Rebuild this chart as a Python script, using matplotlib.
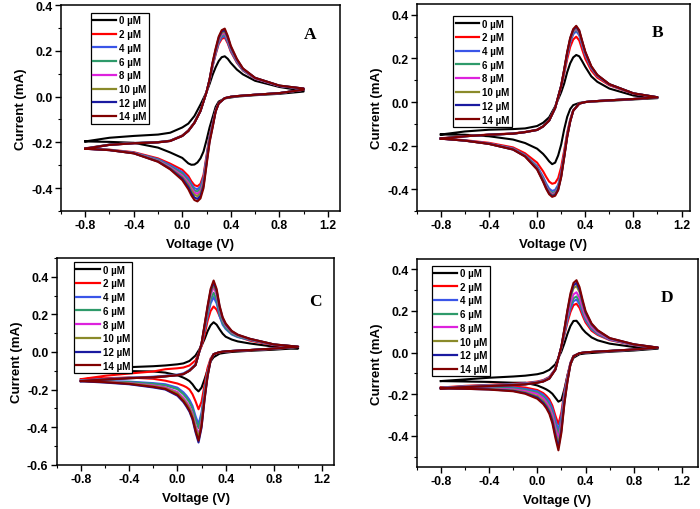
import matplotlib
matplotlib.use("Agg")
import matplotlib.pyplot as plt
from matplotlib.ticker import MultipleLocator, FormatStrFormatter

plt.rcParams['font.family'] = ['Liberation Sans', 'DejaVu Sans']
plt.rcParams['font.weight'] = 'bold'
plt.rcParams['axes.unicode_minus'] = False

# ---------------- data ----------------
CONC = [0, 2, 4, 6, 8, 10, 12, 14]
LABELS = [f"{c} µM" for c in CONC]
COLORS = ['#000000', '#ff0000', '#3a55e8', '#2e9a6a', '#dd22dd', '#8a8a2a', '#1a1aa0', '#800000']

# voltage grids: anodic (forward) sweep and cathodic (reverse) sweep
V_FWD = [-0.8, -0.6, -0.4, -0.2, -0.1, 0.0, 0.05, 0.1, 0.15, 0.2, 0.225, 0.25, 0.275,
         0.3, 0.325, 0.35, 0.375, 0.4, 0.45, 0.5, 0.6, 0.8, 1.0]
V_REV = [1.0, 0.8, 0.6, 0.45, 0.4, 0.35, 0.3, 0.275, 0.25, 0.225, 0.2, 0.175, 0.15,
         0.125, 0.1, 0.075, 0.05, 0.0, -0.1, -0.2, -0.4, -0.6, -0.8]

A_FWD = [
    [-0.196, -0.180, -0.172, -0.166, -0.158, -0.135, -0.118, -0.085, -0.035, 0.020, 0.055, 0.095, 0.128, 0.155, 0.172, 0.176, 0.165, 0.147, 0.118, 0.097, 0.069, 0.042, 0.025],
    [-0.226, -0.210, -0.203, -0.199, -0.193, -0.170, -0.148, -0.113, -0.062, 0.020, 0.070, 0.132, 0.184, 0.229, 0.252, 0.258, 0.232, 0.196, 0.148, 0.114, 0.078, 0.046, 0.034],
    [-0.227, -0.210, -0.203, -0.199, -0.193, -0.171, -0.149, -0.114, -0.062, 0.020, 0.071, 0.135, 0.188, 0.235, 0.259, 0.265, 0.237, 0.200, 0.151, 0.115, 0.079, 0.046, 0.034],
    [-0.227, -0.210, -0.203, -0.199, -0.193, -0.171, -0.149, -0.114, -0.062, 0.020, 0.072, 0.138, 0.193, 0.241, 0.266, 0.272, 0.243, 0.205, 0.154, 0.117, 0.080, 0.047, 0.034],
    [-0.228, -0.211, -0.204, -0.200, -0.194, -0.172, -0.150, -0.115, -0.063, 0.020, 0.073, 0.141, 0.197, 0.246, 0.272, 0.278, 0.248, 0.209, 0.157, 0.119, 0.080, 0.047, 0.035],
    [-0.228, -0.211, -0.204, -0.200, -0.194, -0.172, -0.150, -0.115, -0.063, 0.020, 0.074, 0.144, 0.201, 0.251, 0.278, 0.284, 0.254, 0.213, 0.160, 0.121, 0.081, 0.048, 0.035],
    [-0.228, -0.211, -0.204, -0.200, -0.194, -0.172, -0.150, -0.115, -0.063, 0.020, 0.075, 0.147, 0.205, 0.256, 0.284, 0.290, 0.259, 0.217, 0.162, 0.122, 0.082, 0.048, 0.035],
    [-0.228, -0.211, -0.204, -0.200, -0.194, -0.172, -0.150, -0.115, -0.063, 0.020, 0.075, 0.150, 0.210, 0.262, 0.290, 0.297, 0.265, 0.222, 0.165, 0.123, 0.082, 0.048, 0.035],
]
A_REV = [
    [0.022, 0.012, 0.006, 0.000, -0.004, -0.008, -0.022, -0.045, -0.090, -0.135, -0.190, -0.240, -0.270, -0.288, -0.297, -0.298, -0.292, -0.268, -0.244, -0.223, -0.202, -0.198, -0.196],
    [0.030, 0.015, 0.008, 0.002, -0.001, -0.007, -0.028, -0.060, -0.116, -0.171, -0.257, -0.342, -0.381, -0.392, -0.387, -0.370, -0.347, -0.320, -0.293, -0.270, -0.243, -0.232, -0.226],
    [0.030, 0.015, 0.008, 0.002, -0.001, -0.007, -0.029, -0.061, -0.119, -0.177, -0.265, -0.354, -0.393, -0.405, -0.400, -0.382, -0.358, -0.330, -0.300, -0.274, -0.245, -0.233, -0.227],
    [0.030, 0.015, 0.008, 0.002, -0.001, -0.007, -0.029, -0.062, -0.122, -0.181, -0.272, -0.362, -0.403, -0.415, -0.410, -0.391, -0.367, -0.337, -0.305, -0.277, -0.246, -0.233, -0.227],
    [0.030, 0.015, 0.008, 0.002, -0.001, -0.007, -0.030, -0.063, -0.125, -0.186, -0.278, -0.371, -0.413, -0.425, -0.419, -0.401, -0.376, -0.345, -0.309, -0.280, -0.247, -0.234, -0.228],
    [0.030, 0.015, 0.008, 0.002, -0.001, -0.007, -0.030, -0.064, -0.128, -0.190, -0.285, -0.380, -0.423, -0.435, -0.429, -0.410, -0.385, -0.352, -0.313, -0.282, -0.248, -0.234, -0.228],
    [0.030, 0.015, 0.008, 0.002, -0.001, -0.007, -0.030, -0.065, -0.132, -0.195, -0.293, -0.390, -0.434, -0.447, -0.441, -0.422, -0.395, -0.358, -0.316, -0.284, -0.248, -0.234, -0.228],
    [0.030, 0.015, 0.008, 0.002, -0.001, -0.007, -0.030, -0.065, -0.135, -0.200, -0.300, -0.400, -0.445, -0.458, -0.452, -0.432, -0.405, -0.365, -0.318, -0.285, -0.248, -0.234, -0.228],
]

B_FWD = [
    [-0.149, -0.135, -0.127, -0.124, -0.121, -0.110, -0.095, -0.070, -0.020, 0.045, 0.085, 0.137, 0.178, 0.205, 0.216, 0.210, 0.187, 0.162, 0.118, 0.093, 0.062, 0.030, 0.018],
    [-0.166, -0.156, -0.149, -0.144, -0.137, -0.127, -0.111, -0.084, -0.027, 0.070, 0.130, 0.197, 0.253, 0.287, 0.300, 0.283, 0.240, 0.199, 0.145, 0.112, 0.077, 0.038, 0.021],
    [-0.167, -0.157, -0.150, -0.145, -0.138, -0.128, -0.112, -0.085, -0.027, 0.073, 0.140, 0.214, 0.274, 0.311, 0.325, 0.307, 0.260, 0.216, 0.155, 0.119, 0.080, 0.039, 0.022],
    [-0.167, -0.157, -0.150, -0.145, -0.138, -0.128, -0.112, -0.085, -0.027, 0.074, 0.143, 0.219, 0.281, 0.319, 0.333, 0.314, 0.266, 0.221, 0.158, 0.121, 0.081, 0.040, 0.022],
    [-0.168, -0.157, -0.150, -0.145, -0.138, -0.128, -0.112, -0.085, -0.027, 0.074, 0.145, 0.222, 0.285, 0.324, 0.338, 0.319, 0.270, 0.224, 0.160, 0.122, 0.081, 0.040, 0.022],
    [-0.168, -0.157, -0.150, -0.145, -0.138, -0.128, -0.112, -0.085, -0.027, 0.075, 0.147, 0.225, 0.288, 0.327, 0.342, 0.322, 0.274, 0.227, 0.162, 0.123, 0.082, 0.040, 0.022],
    [-0.168, -0.157, -0.150, -0.145, -0.138, -0.128, -0.112, -0.085, -0.027, 0.075, 0.148, 0.227, 0.292, 0.331, 0.346, 0.326, 0.277, 0.229, 0.163, 0.124, 0.082, 0.040, 0.022],
    [-0.168, -0.157, -0.150, -0.145, -0.138, -0.128, -0.112, -0.085, -0.027, 0.075, 0.150, 0.230, 0.295, 0.335, 0.350, 0.330, 0.280, 0.232, 0.165, 0.125, 0.082, 0.040, 0.022],
]
B_REV = [
    [0.018, 0.012, 0.006, 0.002, 0.000, -0.004, -0.014, -0.032, -0.068, -0.125, -0.195, -0.245, -0.278, -0.285, -0.272, -0.254, -0.238, -0.214, -0.188, -0.172, -0.157, -0.150, -0.149],
    [0.021, 0.014, 0.008, 0.003, 0.000, -0.007, -0.037, -0.080, -0.140, -0.222, -0.298, -0.349, -0.371, -0.375, -0.365, -0.343, -0.318, -0.278, -0.235, -0.208, -0.187, -0.175, -0.166],
    [0.022, 0.014, 0.008, 0.003, 0.000, -0.007, -0.039, -0.084, -0.150, -0.239, -0.324, -0.380, -0.403, -0.408, -0.397, -0.373, -0.343, -0.294, -0.243, -0.213, -0.190, -0.176, -0.167],
    [0.022, 0.014, 0.008, 0.003, 0.000, -0.007, -0.039, -0.086, -0.153, -0.245, -0.331, -0.388, -0.412, -0.417, -0.406, -0.382, -0.351, -0.299, -0.245, -0.215, -0.191, -0.177, -0.167],
    [0.022, 0.014, 0.008, 0.003, 0.000, -0.007, -0.040, -0.087, -0.156, -0.248, -0.335, -0.394, -0.418, -0.423, -0.411, -0.387, -0.356, -0.303, -0.247, -0.216, -0.191, -0.177, -0.168],
    [0.022, 0.014, 0.008, 0.003, 0.000, -0.007, -0.040, -0.088, -0.157, -0.250, -0.339, -0.398, -0.422, -0.427, -0.415, -0.391, -0.359, -0.305, -0.248, -0.217, -0.192, -0.177, -0.168],
    [0.022, 0.014, 0.008, 0.003, 0.000, -0.007, -0.040, -0.089, -0.159, -0.253, -0.342, -0.401, -0.426, -0.431, -0.419, -0.394, -0.363, -0.307, -0.249, -0.218, -0.192, -0.177, -0.168],
    [0.022, 0.014, 0.008, 0.003, 0.000, -0.007, -0.040, -0.090, -0.160, -0.255, -0.345, -0.405, -0.430, -0.435, -0.423, -0.398, -0.366, -0.310, -0.250, -0.218, -0.192, -0.177, -0.168],
]

C_FWD = [
    [-0.111, -0.090, -0.081, -0.076, -0.072, -0.066, -0.061, -0.048, -0.019, 0.033, 0.068, 0.110, 0.142, 0.158, 0.145, 0.120, 0.097, 0.081, 0.066, 0.056, 0.045, 0.028, 0.018],
    [-0.145, -0.127, -0.115, -0.104, -0.092, -0.087, -0.083, -0.072, -0.045, 0.030, 0.090, 0.165, 0.218, 0.242, 0.225, 0.190, 0.155, 0.132, 0.100, 0.082, 0.060, 0.036, 0.026],
    [-0.152, -0.144, -0.137, -0.132, -0.127, -0.121, -0.114, -0.096, -0.066, 0.040, 0.115, 0.190, 0.258, 0.292, 0.258, 0.190, 0.145, 0.122, 0.093, 0.079, 0.064, 0.038, 0.027],
    [-0.153, -0.145, -0.138, -0.133, -0.128, -0.122, -0.116, -0.098, -0.068, 0.042, 0.123, 0.204, 0.278, 0.315, 0.278, 0.204, 0.155, 0.128, 0.097, 0.082, 0.066, 0.039, 0.027],
    [-0.154, -0.146, -0.139, -0.134, -0.129, -0.123, -0.117, -0.099, -0.069, 0.043, 0.133, 0.223, 0.304, 0.345, 0.304, 0.223, 0.170, 0.140, 0.104, 0.087, 0.068, 0.039, 0.028],
    [-0.155, -0.147, -0.140, -0.135, -0.130, -0.124, -0.118, -0.100, -0.070, 0.044, 0.137, 0.231, 0.316, 0.358, 0.316, 0.231, 0.175, 0.145, 0.107, 0.089, 0.069, 0.040, 0.028],
    [-0.156, -0.147, -0.140, -0.135, -0.130, -0.124, -0.118, -0.100, -0.070, 0.045, 0.141, 0.239, 0.326, 0.370, 0.326, 0.239, 0.180, 0.148, 0.110, 0.091, 0.070, 0.040, 0.028],
    [-0.155, -0.147, -0.140, -0.135, -0.130, -0.124, -0.118, -0.100, -0.070, 0.045, 0.145, 0.245, 0.335, 0.380, 0.335, 0.245, 0.185, 0.152, 0.112, 0.092, 0.070, 0.040, 0.028],
]
C_REV = [
    [0.020, 0.012, 0.006, 0.000, -0.004, -0.009, -0.028, -0.050, -0.095, -0.145, -0.190, -0.210, -0.195, -0.172, -0.155, -0.145, -0.137, -0.124, -0.110, -0.104, -0.102, -0.106, -0.111],
    [0.026, 0.016, 0.009, 0.004, 0.002, -0.002, -0.012, -0.035, -0.085, -0.175, -0.265, -0.305, -0.262, -0.225, -0.200, -0.188, -0.180, -0.168, -0.153, -0.143, -0.136, -0.140, -0.145],
    [0.027, 0.017, 0.010, 0.005, 0.003, -0.001, -0.012, -0.040, -0.108, -0.204, -0.322, -0.385, -0.341, -0.287, -0.255, -0.233, -0.215, -0.190, -0.172, -0.166, -0.158, -0.155, -0.152],
    [0.027, 0.017, 0.010, 0.005, 0.003, -0.001, -0.012, -0.041, -0.112, -0.215, -0.339, -0.405, -0.359, -0.302, -0.268, -0.245, -0.225, -0.198, -0.178, -0.170, -0.161, -0.157, -0.153],
    [0.028, 0.018, 0.010, 0.005, 0.003, -0.001, -0.012, -0.043, -0.121, -0.233, -0.368, -0.440, -0.390, -0.328, -0.291, -0.266, -0.244, -0.213, -0.188, -0.178, -0.166, -0.159, -0.154],
    [0.028, 0.018, 0.010, 0.005, 0.003, -0.001, -0.012, -0.044, -0.124, -0.241, -0.381, -0.455, -0.403, -0.339, -0.301, -0.275, -0.253, -0.220, -0.193, -0.182, -0.168, -0.160, -0.155],
    [0.028, 0.018, 0.010, 0.005, 0.003, -0.001, -0.012, -0.046, -0.131, -0.255, -0.403, -0.482, -0.427, -0.359, -0.318, -0.291, -0.267, -0.233, -0.200, -0.189, -0.172, -0.163, -0.156],
    [0.028, 0.018, 0.010, 0.005, 0.003, -0.001, -0.012, -0.045, -0.128, -0.250, -0.395, -0.472, -0.418, -0.352, -0.312, -0.285, -0.262, -0.228, -0.197, -0.186, -0.170, -0.161, -0.155],
]

D_FWD = [
    [-0.137, -0.129, -0.121, -0.115, -0.111, -0.104, -0.097, -0.083, -0.056, 0.005, 0.045, 0.090, 0.128, 0.152, 0.153, 0.135, 0.113, 0.097, 0.073, 0.059, 0.043, 0.027, 0.019],
    [-0.168, -0.160, -0.155, -0.150, -0.146, -0.139, -0.132, -0.117, -0.078, 0.025, 0.085, 0.145, 0.195, 0.228, 0.235, 0.215, 0.178, 0.145, 0.105, 0.085, 0.060, 0.036, 0.023],
    [-0.170, -0.162, -0.157, -0.152, -0.148, -0.141, -0.134, -0.119, -0.079, 0.026, 0.093, 0.158, 0.212, 0.247, 0.255, 0.233, 0.192, 0.155, 0.112, 0.089, 0.062, 0.037, 0.023],
    [-0.170, -0.163, -0.158, -0.153, -0.150, -0.142, -0.136, -0.121, -0.080, 0.027, 0.098, 0.167, 0.224, 0.261, 0.270, 0.246, 0.202, 0.163, 0.117, 0.092, 0.064, 0.038, 0.023],
    [-0.171, -0.164, -0.159, -0.154, -0.151, -0.143, -0.137, -0.122, -0.081, 0.028, 0.104, 0.179, 0.240, 0.280, 0.290, 0.264, 0.216, 0.173, 0.124, 0.097, 0.065, 0.038, 0.024],
    [-0.172, -0.165, -0.160, -0.155, -0.152, -0.144, -0.138, -0.124, -0.082, 0.029, 0.110, 0.195, 0.264, 0.310, 0.320, 0.291, 0.237, 0.188, 0.133, 0.103, 0.068, 0.039, 0.024],
    [-0.172, -0.166, -0.161, -0.156, -0.153, -0.145, -0.139, -0.125, -0.082, 0.030, 0.113, 0.200, 0.275, 0.323, 0.335, 0.303, 0.246, 0.194, 0.137, 0.106, 0.069, 0.040, 0.024],
    [-0.172, -0.166, -0.161, -0.156, -0.153, -0.145, -0.139, -0.125, -0.082, 0.030, 0.115, 0.205, 0.285, 0.335, 0.348, 0.315, 0.255, 0.200, 0.140, 0.108, 0.070, 0.040, 0.024],
]
D_REV = [
    [0.019, 0.010, 0.004, -0.002, -0.004, -0.008, -0.025, -0.056, -0.110, -0.175, -0.228, -0.236, -0.217, -0.198, -0.186, -0.177, -0.170, -0.158, -0.145, -0.145, -0.141, -0.139, -0.137],
    [0.023, 0.014, 0.007, 0.003, 0.001, -0.003, -0.016, -0.048, -0.110, -0.185, -0.285, -0.345, -0.303, -0.255, -0.225, -0.208, -0.195, -0.180, -0.168, -0.163, -0.165, -0.167, -0.168],
    [0.023, 0.014, 0.007, 0.003, 0.001, -0.003, -0.017, -0.050, -0.116, -0.196, -0.306, -0.372, -0.325, -0.270, -0.237, -0.218, -0.203, -0.186, -0.175, -0.168, -0.168, -0.169, -0.170],
    [0.023, 0.014, 0.008, 0.003, 0.001, -0.003, -0.017, -0.052, -0.122, -0.208, -0.325, -0.395, -0.345, -0.286, -0.250, -0.228, -0.212, -0.193, -0.180, -0.172, -0.171, -0.171, -0.170],
    [0.024, 0.015, 0.008, 0.003, 0.001, -0.003, -0.018, -0.053, -0.127, -0.218, -0.342, -0.415, -0.362, -0.300, -0.262, -0.238, -0.220, -0.199, -0.185, -0.177, -0.173, -0.172, -0.171],
    [0.024, 0.015, 0.008, 0.003, 0.001, -0.003, -0.018, -0.054, -0.133, -0.230, -0.360, -0.438, -0.382, -0.317, -0.276, -0.251, -0.232, -0.209, -0.191, -0.181, -0.175, -0.173, -0.172],
    [0.024, 0.015, 0.008, 0.003, 0.001, -0.003, -0.018, -0.055, -0.137, -0.238, -0.373, -0.455, -0.397, -0.329, -0.286, -0.260, -0.241, -0.216, -0.195, -0.184, -0.177, -0.174, -0.172],
    [0.024, 0.015, 0.008, 0.003, 0.001, -0.003, -0.018, -0.056, -0.140, -0.245, -0.385, -0.470, -0.410, -0.340, -0.295, -0.268, -0.248, -0.222, -0.198, -0.186, -0.178, -0.174, -0.172],
]

# ---------------- layout ----------------
fig = plt.figure(figsize=(7.0, 5.1), dpi=100)

panels = [
    # letter, fwd, rev, axes rect, xlim, ylim, yticks, legend anchor, letter pos
    ("A", A_FWD, A_REV, [0.0871, 0.5843, 0.3986, 0.4039], (-1.0, 1.3), (-0.5, 0.4),
     [-0.4, -0.2, 0.0, 0.2, 0.4], (0.106, 0.961), (0.892, 0.859)),
    ("B", B_FWD, B_REV, [0.5953, 0.5843, 0.3904, 0.4059], (-1.0, 1.27), (-0.5, 0.45),
     [-0.4, -0.2, 0.0, 0.2, 0.4], (0.134, 0.941), (0.883, 0.865)),
    ("C", C_FWD, C_REV, [0.0810, 0.0869, 0.3966, 0.4053], (-1.0, 1.3), (-0.6, 0.5),
     [-0.6, -0.4, -0.2, 0.0, 0.2, 0.4], (0.062, 0.979), (0.931, 0.792)),
    ("D", D_FWD, D_REV, [0.5953, 0.0824, 0.4014, 0.4078], (-1.0, 1.33), (-0.55, 0.45),
     [-0.4, -0.2, 0.0, 0.2, 0.4], (0.053, 0.968), (0.890, 0.817)),
]

for letter, fwd, rev, rect, xl, yl, yt, leg_anchor, let_pos in panels:
    ax = fig.add_axes(rect)
    for i in range(len(CONC)):
        ax.plot(V_FWD + V_REV, fwd[i] + rev[i], color=COLORS[i], lw=1.5,
                label=LABELS[i], solid_joinstyle='round')
    ax.set_xlim(*xl)
    ax.set_ylim(*yl)
    ax.set_xticks([-0.8, -0.4, 0.0, 0.4, 0.8, 1.2])
    ax.set_yticks(yt)
    ax.xaxis.set_minor_locator(MultipleLocator(0.2))
    ax.yaxis.set_minor_locator(MultipleLocator(0.1))
    ax.xaxis.set_major_formatter(FormatStrFormatter('%.1f'))
    ax.yaxis.set_major_formatter(FormatStrFormatter('%.1f'))
    ax.tick_params(which='major', direction='out', length=4, width=1.0,
                   labelsize=8.8, pad=2)
    ax.tick_params(which='minor', direction='out', length=2, width=0.8)
    for lab in ax.get_xticklabels() + ax.get_yticklabels():
        lab.set_fontweight('bold')
    for s in ax.spines.values():
        s.set_linewidth(1.1)
    ax.set_xlabel("Voltage (V)", fontsize=9.5, fontweight='bold', labelpad=5)
    ax.set_ylabel("Current (mA)", fontsize=9.5, fontweight='bold', labelpad=3)
    leg = ax.legend(loc='upper left', bbox_to_anchor=leg_anchor, borderaxespad=0,
                    fancybox=False, edgecolor='black', framealpha=1,
                    prop={'size': 7, 'weight': 'bold'}, handlelength=2.4,
                    handletextpad=0.3, labelspacing=0.38, borderpad=0.25)
    leg.get_frame().set_linewidth(0.9)
    for ln in leg.get_lines():
        ln.set_linewidth(1.6)
    ax.text(let_pos[0], let_pos[1], letter, transform=ax.transAxes,
            ha='center', va='center', fontsize=12.5, fontweight='bold',
            family=['Liberation Serif', 'DejaVu Serif'])

fig.savefig("out.png", dpi=100)
